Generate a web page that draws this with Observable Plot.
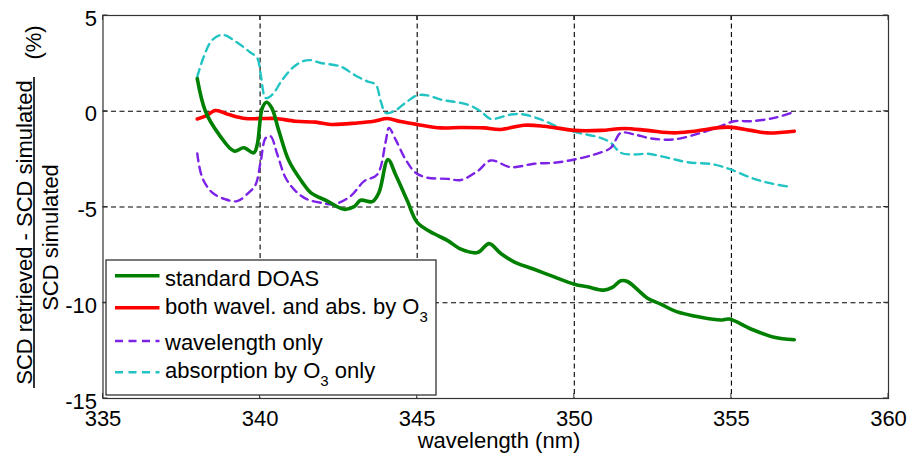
<!DOCTYPE html>
<html>
<head>
<meta charset="utf-8">
<script src="https://cdn.jsdelivr.net/npm/d3@7"></script>
<script src="https://cdn.jsdelivr.net/npm/@observablehq/plot@0.6"></script>
<style>
  html, body { margin: 0; padding: 0; background: #fff; }
  svg { font-family: "Liberation Sans", Arial, sans-serif; }
</style>
</head>
<body>
<div id="chart"></div>
<script>
// ---- data ----
const xTicks = [335, 340, 345, 350, 355, 360];
const yTicks = [-15, -10, -5, 0, 5];

const stdX = [338.0,338.26,338.69,339.17,339.48,339.80,339.91,340.07,340.21,340.37,340.60,340.92,341.34,341.61,342.14,342.67,342.99,343.20,343.57,343.78,344.07,344.31,344.69,345.0,345.54,345.96,346.39,346.92,347.29,347.66,348.08,348.72,349.36,350.0,350.42,350.95,351.21,351.48,351.69,352.33,352.75,353.23,354.03,354.66,354.93,355.62,356.36,357.0];
const stdY = [1.7,0.0,-1.21,-2.08,-1.91,-2.17,-1.74,0.17,0.47,0.17,-1.04,-2.6,-3.7,-4.25,-4.69,-5.12,-4.98,-4.65,-4.72,-4.25,-2.52,-3.3,-4.69,-5.8,-6.4,-6.74,-7.2,-7.38,-6.91,-7.43,-7.86,-8.25,-8.65,-9.03,-9.17,-9.34,-9.2,-8.85,-8.89,-9.76,-10.07,-10.45,-10.76,-10.9,-10.85,-11.37,-11.8,-11.93];

const bothX = [338.0,338.26,338.58,339.0,339.54,340.07,340.49,341.13,341.77,342.25,343.09,343.62,344.05,344.47,345.0,345.75,346.39,347.13,347.66,348.40,349.04,350.0,350.84,351.59,352.33,353.18,353.82,354.88,355.62,356.15,357.0];
const bothY = [-0.4,-0.26,0.04,-0.17,-0.38,-0.38,-0.38,-0.52,-0.57,-0.69,-0.61,-0.52,-0.38,-0.54,-0.69,-0.87,-0.85,-0.87,-0.95,-0.73,-0.78,-1.0,-1.0,-0.9,-1.0,-1.13,-1.04,-0.83,-1.0,-1.13,-1.04];

const wlX = [338.0,338.16,338.48,338.90,339.27,339.64,339.86,340.02,340.18,340.33,340.55,340.81,341.13,341.5,342.0,342.35,342.88,343.31,343.73,344.0,344.10,344.31,344.63,344.95,345.32,345.96,346.39,346.92,347.34,347.98,348.72,349.36,350.0,350.63,351.16,351.48,351.91,352.44,353.18,354.03,354.66,355.09,355.62,356.36,356.89];
const wlY = [-2.2,-3.47,-4.25,-4.6,-4.69,-4.25,-3.82,-2.6,-1.39,-1.3,-2.26,-3.47,-4.17,-4.6,-4.8,-4.86,-4.43,-3.65,-3.3,-1.56,-0.87,-1.47,-2.52,-3.21,-3.47,-3.53,-3.59,-3.13,-2.57,-2.92,-2.74,-2.69,-2.52,-2.26,-1.91,-1.13,-1.21,-1.42,-1.47,-1.13,-0.78,-0.52,-0.52,-0.35,-0.09];

const absX = [338.0,338.21,338.48,338.80,339.22,339.64,339.91,340.02,340.18,340.39,340.71,341.03,341.34,341.6,341.93,342.56,342.99,343.41,343.68,343.84,344.0,344.26,344.69,345.0,345.32,345.75,346.6,347.02,347.34,347.98,348.40,348.93,349.57,350.0,350.84,351.16,351.48,351.91,352.33,352.97,353.6,354.45,354.98,355.62,356.15,356.89];
const absY = [1.8,2.86,3.73,3.99,3.65,3.13,2.78,1.91,0.69,0.87,1.65,2.26,2.6,2.67,2.52,2.34,1.91,1.56,1.39,0.52,-0.09,0.0,0.52,0.83,0.83,0.61,0.35,0.0,-0.4,-0.17,-0.17,-0.43,-0.87,-1.08,-1.39,-1.65,-2.17,-2.26,-2.22,-2.43,-2.66,-2.78,-3.04,-3.47,-3.73,-3.96];

const seriesNames = ["standard DOAS", "both wavel. and abs. by O3", "wavelength only", "absorption by O3 only"];
const seriesColors = ["#008000", "#ff0000", "#7b22e6", "#22c3c3"];

// ---- build tables ----
const toRows = (xs, ys) => xs.map((x, i) => ({x, y: ys[i]}));
const stdRows = toRows(stdX, stdY);
const bothRows = toRows(bothX, bothY);
const wlRows = toRows(wlX, wlY);
const absRows = toRows(absX, absY);

const FONT = 22;
const gridDash = "5,3.5";
const DASH = "8,5.5";
const THIN = 2.4, THICK = 3.6;

const chart = Plot.plot({
  width: 911,
  height: 453,
  marginLeft: 102.5,
  marginRight: 23,
  marginTop: 15,
  marginBottom: 55,
  style: {fontFamily: '"Liberation Sans", Arial, sans-serif', fontSize: FONT + "px", background: "#fff", color: "#000"},
  x: {domain: [335, 360]},
  y: {domain: [-15, 5]},
  marks: [
    Plot.gridX(xTicks.slice(1, -1), {stroke: "#000", strokeOpacity: 1, strokeWidth: 1.1, strokeDasharray: gridDash}),
    Plot.gridY(yTicks.slice(1, -1), {stroke: "#000", strokeOpacity: 1, strokeWidth: 1.1, strokeDasharray: gridDash}),
    Plot.axisX(xTicks, {tickSize: 0, tickPadding: 12, fontSize: FONT, label: null, tickFormat: d => String(d)}),
    Plot.axisY(yTicks, {tickSize: 0, tickPadding: 6, fontSize: FONT, label: null, dy: 3, tickFormat: d => String(d)}),
    Plot.line(absRows, {x: "x", y: "y", stroke: seriesColors[3], strokeWidth: THIN, strokeDasharray: DASH, curve: "catmull-rom"}),
    Plot.line(wlRows, {x: "x", y: "y", stroke: seriesColors[2], strokeWidth: THIN, strokeDasharray: DASH, curve: "catmull-rom"}),
    Plot.line(bothRows, {x: "x", y: "y", stroke: seriesColors[1], strokeWidth: THICK, curve: "catmull-rom"}),
    Plot.line(stdRows, {x: "x", y: "y", stroke: seriesColors[0], strokeWidth: THICK, curve: "catmull-rom"}),
    Plot.frame({stroke: "#333", strokeWidth: 1.2})
  ]
});

document.getElementById("chart").appendChild(chart);

// ---- decorations: inward ticks, axis labels, legend ----
const svg = d3.select(chart);
const sx = chart.scale("x"), sy = chart.scale("y");
const x0 = sx.apply(335), x1 = sx.apply(360), y0 = sy.apply(-15), y1 = sy.apply(5);
const tk = svg.append("g").attr("stroke", "#333").attr("stroke-width", 1);
xTicks.forEach(v => {
  const X = sx.apply(v);
  tk.append("line").attr("x1", X).attr("x2", X).attr("y1", y0).attr("y2", y0 - 5);
  tk.append("line").attr("x1", X).attr("x2", X).attr("y1", y1).attr("y2", y1 + 5);
});
yTicks.forEach(v => {
  const Y = sy.apply(v);
  tk.append("line").attr("x1", x0).attr("x2", x0 + 5).attr("y1", Y).attr("y2", Y);
  tk.append("line").attr("x1", x1).attr("x2", x1 - 5).attr("y1", Y).attr("y2", Y);
});

// x axis label
svg.append("text").attr("x", 499).attr("y", 448).attr("text-anchor", "middle")
  .attr("font-size", FONT).attr("fill", "#000").text("wavelength (nm)");

// y axis label (fraction)
const yl = svg.append("g").attr("font-size", FONT).attr("fill", "#000").attr("text-anchor", "middle");
yl.append("text").attr("transform", "translate(31.5,232.5) rotate(-90)")
  .text("SCD retrieved - SCD simulated");
yl.append("line").attr("x1", 34).attr("x2", 34).attr("y1", 77).attr("y2", 388)
  .attr("stroke", "#000").attr("stroke-width", 1.6);
yl.append("text").attr("transform", "translate(58,237.5) rotate(-90)")
  .text("SCD simulated");
yl.append("text").attr("transform", "translate(41,42.5) rotate(-90)")
  .text("(%)");

// legend
const lg = svg.append("g").attr("text-anchor", "start");
lg.append("rect").attr("x", 106).attr("y", 260).attr("width", 330).attr("height", 135)
  .attr("fill", "#fff").attr("stroke", "#222").attr("stroke-width", 1.2);
const lineY = [275.7, 307.7, 341, 372.3];
const textY = [285.7, 314.3, 350, 378.3];
const dashes = [null, null, DASH, DASH];
const widths = [THICK, THICK, THIN, THIN];
seriesNames.forEach((name, i) => {
  const l = lg.append("line").attr("x1", 115).attr("x2", 159.5).attr("y1", lineY[i]).attr("y2", lineY[i])
    .attr("stroke", seriesColors[i]).attr("stroke-width", widths[i]);
  if (dashes[i]) l.attr("stroke-dasharray", dashes[i]);
  const t = lg.append("text").attr("x", 165).attr("y", textY[i]).attr("font-size", FONT)
    .attr("fill", "#000").attr("text-anchor", "start");
  const parts = name.split("O3");
  if (parts.length === 1) {
    t.text(name);
  } else {
    t.append("tspan").text(parts[0] + "O");
    t.append("tspan").attr("font-size", 15).attr("dy", 8).text("3");
    if (parts[1]) t.append("tspan").attr("dy", -8).text(parts[1]);
  }
});
</script>
</body>
</html>
